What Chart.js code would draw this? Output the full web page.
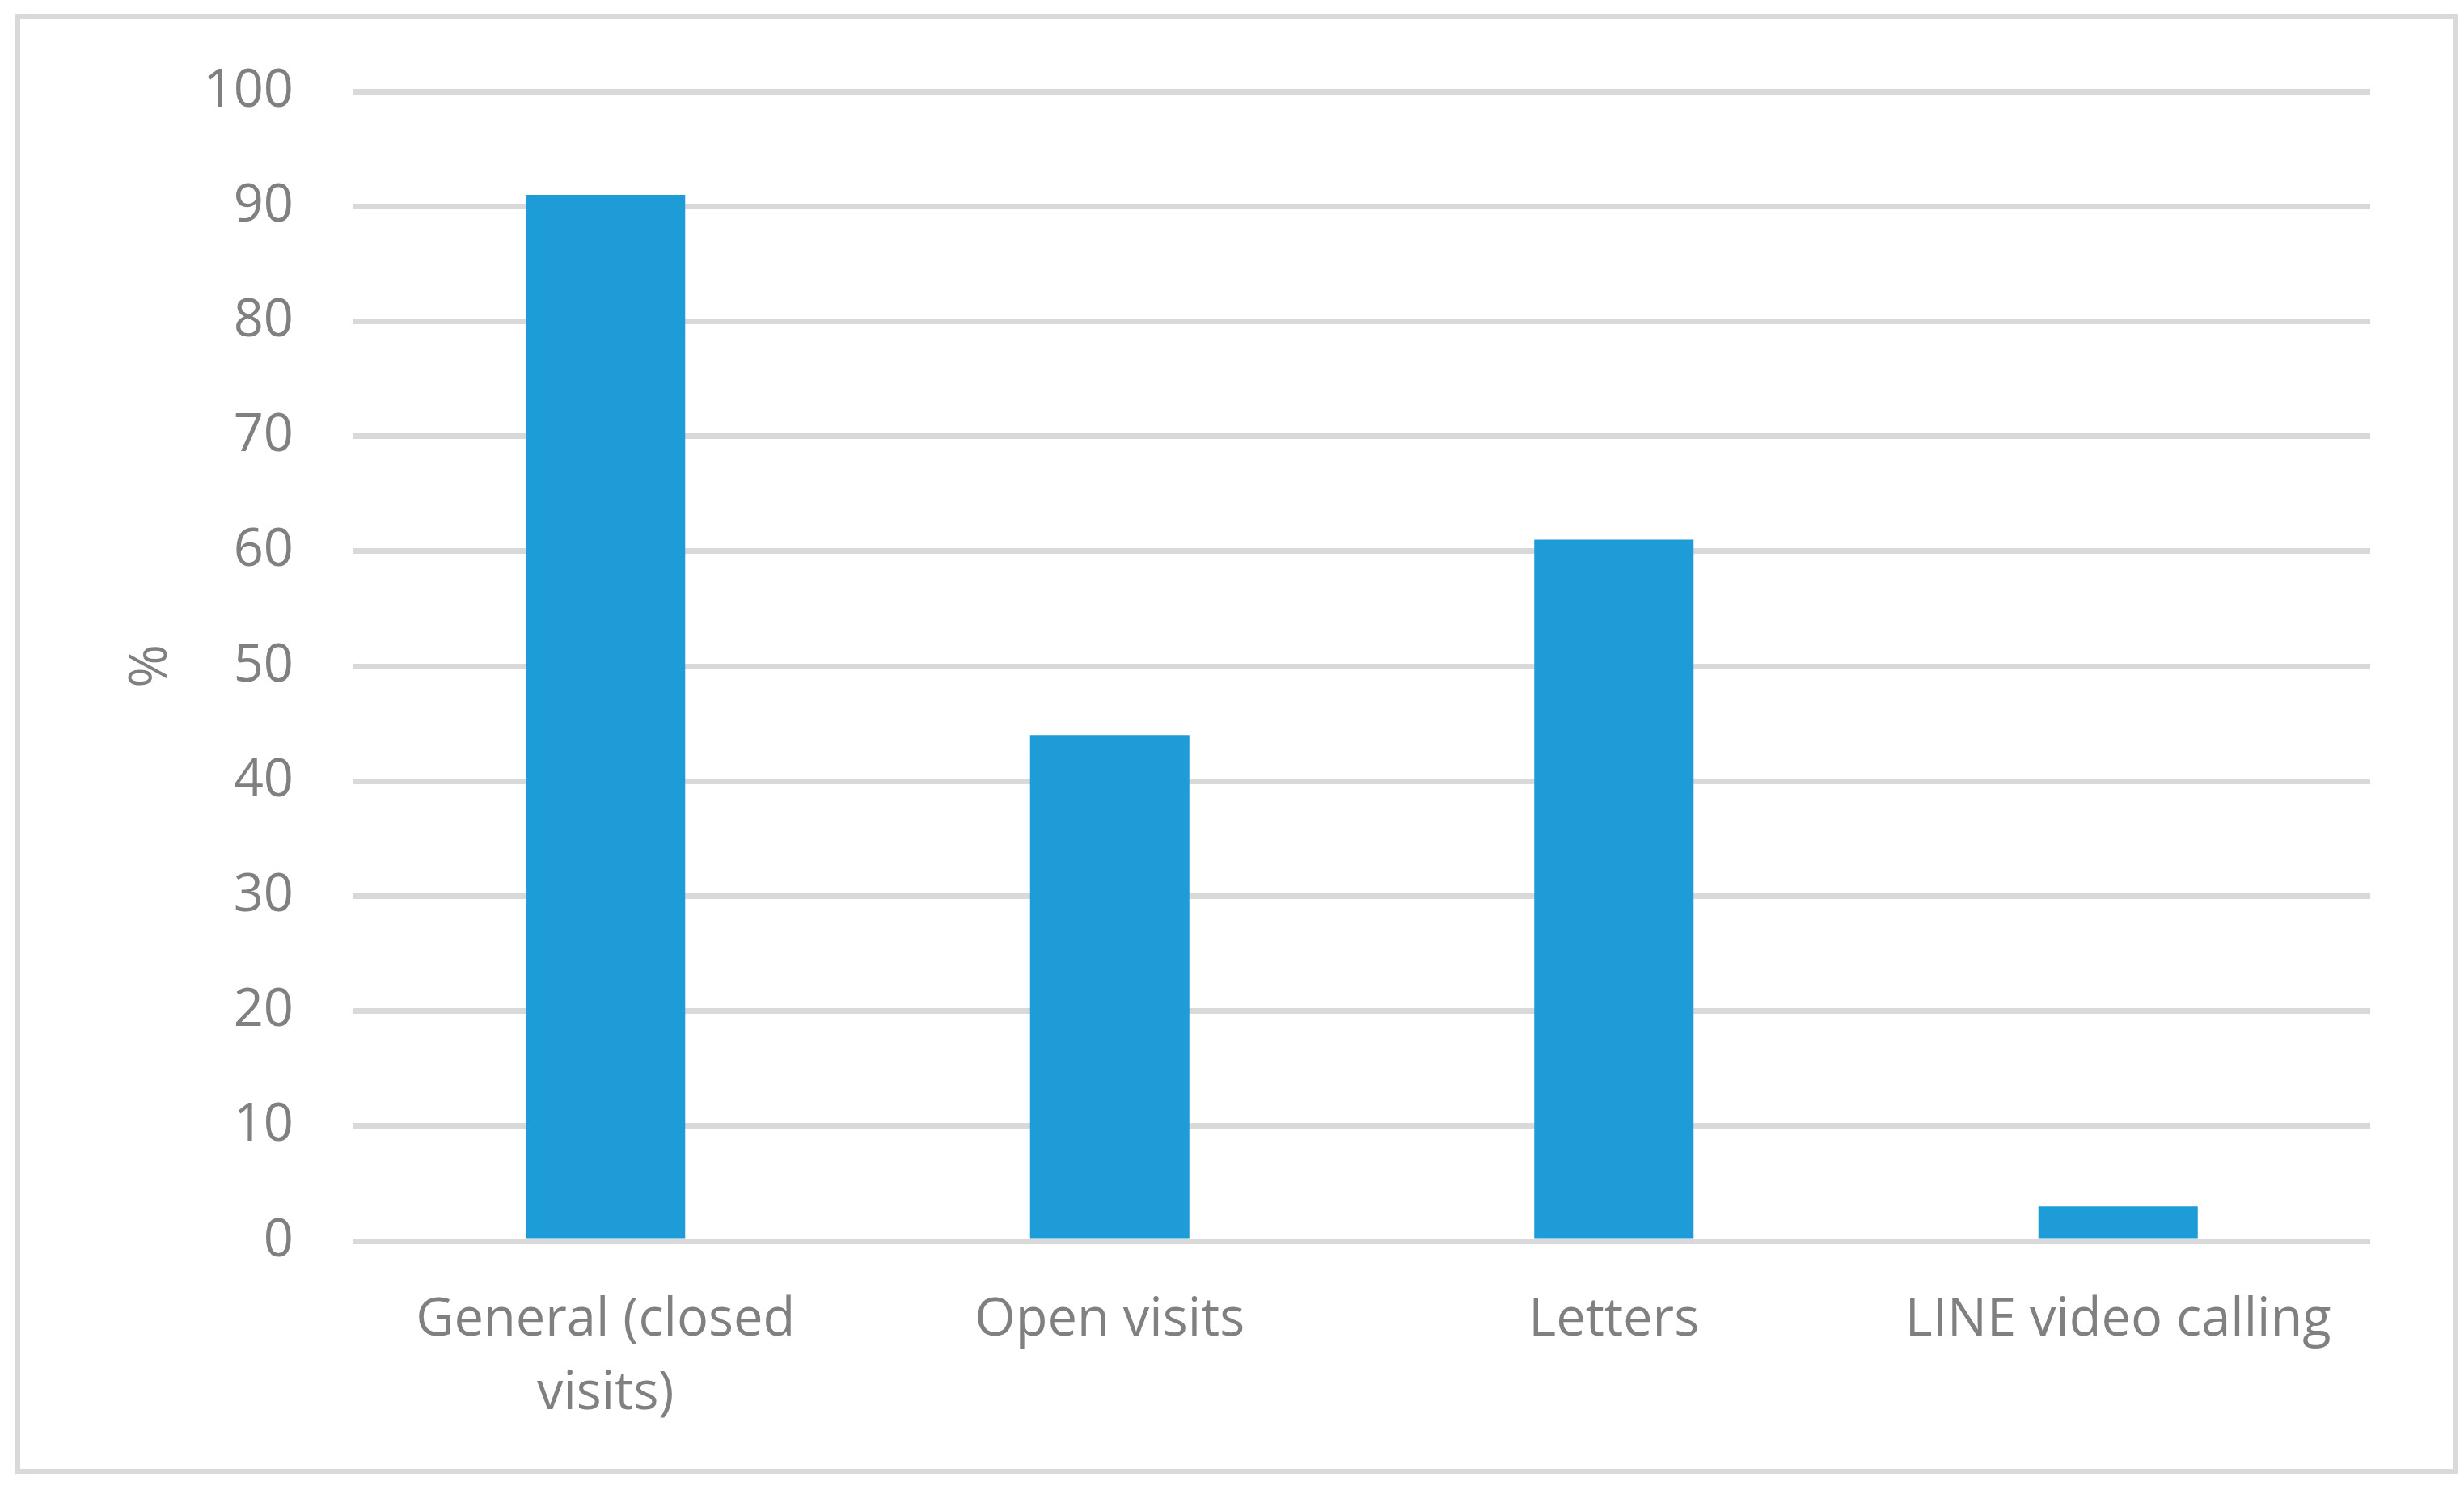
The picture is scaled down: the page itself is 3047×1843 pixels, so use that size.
<!DOCTYPE html>
<html>
<head>
<meta charset="utf-8">
<script src="https://cdn.jsdelivr.net/npm/chart.js@4"></script>
<style>
  html, body { margin: 0; padding: 0; background: #ffffff; }
  canvas { display: block; }
</style>
</head>
<body>
<canvas id="chart" width="3047" height="1843"></canvas>
<script>
// Data
const categories = [['General (closed', 'visits)'], 'Open visits', 'Letters', 'LINE video calling'];
const percentValues = [91, 44, 61, 3];
const yTicks = { min: 0, max: 100, step: 10 };

const textColor = '#808080';
const gridColor = '#d9d9d9';
const barColor = '#1d9cd8';

// Light grey frame around the whole chart
const frameBorder = {
  id: 'frameBorder',
  beforeDraw(chart) {
    const c = chart.ctx;
    c.save();
    c.fillStyle = '#ffffff';
    c.fillRect(0, 0, chart.width, chart.height);
    c.strokeStyle = gridColor;
    c.lineWidth = 6;
    c.strokeRect(22, 20, 3014, 1800);
    c.restore();
  }
};

Chart.defaults.font.family = '"Open Sans", sans-serif';
Chart.defaults.color = textColor;

new Chart(document.getElementById('chart'), {
  type: 'bar',
  data: {
    labels: categories,
    datasets: [{
      data: percentValues,
      backgroundColor: barColor,
      barPercentage: 0.316,
      categoryPercentage: 1.0,
    }],
  },
  options: {
    responsive: false,
    animation: false,
    devicePixelRatio: 1,
    layout: {
      padding: { top: 110, right: 116, bottom: 0, left: 0 },
    },
    plugins: {
      legend: { display: false },
      title: { display: false },
      tooltip: { enabled: false },
    },
    scales: {
      x: {
        grid: { display: false, drawTicks: false },
        border: { display: false },
        ticks: {
          color: textColor,
          font: { size: 65, lineHeight: 1.415 },
          padding: 52,
          maxRotation: 0,
          autoSkip: false,
        },
        afterFit(scale) { scale.height = 308; },
      },
      y: {
        min: yTicks.min,
        max: yTicks.max,
        grid: { color: gridColor, lineWidth: 7, drawTicks: false },
        border: { display: false },
        ticks: {
          stepSize: yTicks.step,
          color: textColor,
          font: { size: 65 },
          padding: 74,
        },
        title: {
          display: true,
          text: '%',
          color: textColor,
          font: { size: 65 },
          padding: { top: 148, bottom: 0 },
        },
        afterFit(scale) { scale.width = 437; },
      },
    },
  },
  plugins: [frameBorder],
});
</script>
</body>
</html>
